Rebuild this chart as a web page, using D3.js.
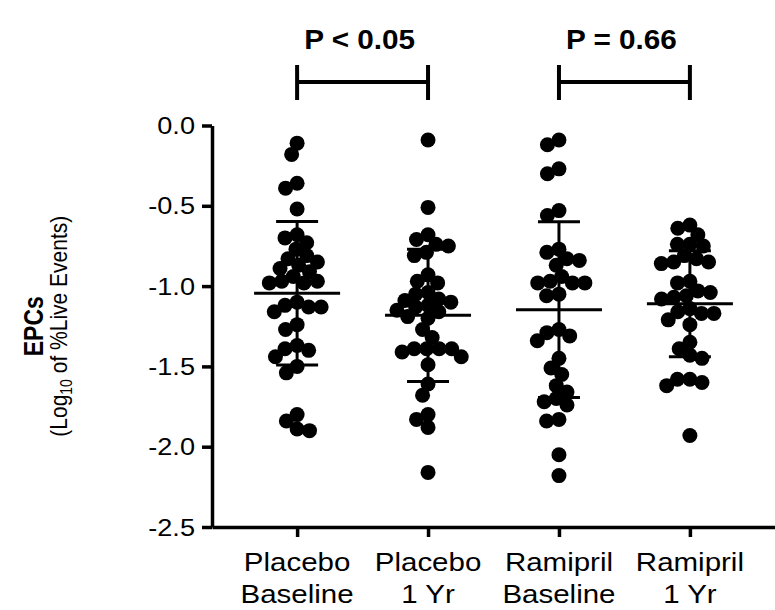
<!DOCTYPE html>
<html lang="en">
<head>
<meta charset="UTF-8">
<title>EPCs scatter</title>
<script src="https://d3js.org/d3.v7.min.js"></script>
<style>
  body { margin: 0; background: #fff; }
  svg text { font-family: "Liberation Sans", Arial, sans-serif; fill: #000; }
</style>
</head>
<body>
<div id="chart"></div>
<script>
// categories and tick labels
const categories = ["Placebo Baseline", "Placebo 1 Yr", "Ramipril Baseline", "Ramipril 1 Yr"];
const categoryLines = [["Placebo", "Baseline"], ["Placebo", "1 Yr"], ["Ramipril", "Baseline"], ["Ramipril", "1 Yr"]];
const yTicks = [0, -0.5, -1.0, -1.5, -2.0, -2.5];

// values (log10 of % live events)
const placeboBaseline = [-0.11, -0.18, -0.36, -0.39, -0.52, -0.70, -0.68, -0.73, -0.77, -0.81,
  -0.83, -0.85, -0.89, -0.87, -0.94, -0.91, -0.97, -0.98, -0.98, -0.97, -1.13, -1.13, -1.16,
  -1.12, -1.10, -1.24, -1.27, -1.37, -1.40, -1.39, -1.44, -1.50, -1.54, -1.84, -1.90, -1.89, -1.80];
const placebo1Yr = [-0.09, -0.51, -0.68, -0.74, -0.71, -0.75, -0.79, -0.81, -0.93, -0.98, -0.97,
  -1.05, -1.09, -1.04, -1.08, -1.12, -1.15, -1.13, -1.10, -1.16, -1.20, -1.19, -1.27, -1.32,
  -1.39, -1.39, -1.44, -1.49, -1.41, -1.39, -1.39, -1.61, -1.68, -1.83, -1.88, -1.80, -2.16];
const ramiprilBaseline = [-0.09, -0.12, -0.30, -0.27, -0.53, -0.56, -0.77, -0.83, -0.87, -0.84,
  -0.79, -0.97, -0.98, -1.05, -1.06, -0.98, -0.98, -0.94, -1.29, -1.34, -1.31, -1.27, -1.45,
  -1.55, -1.51, -1.66, -1.62, -1.70, -1.72, -1.74, -1.83, -1.84, -2.05, -2.18];
const ramipril1Yr = [-0.62, -0.64, -0.68, -0.75, -0.74, -0.74, -0.81, -0.83, -0.85, -0.86, -0.85,
  -0.98, -0.97, -1.03, -1.04, -1.08, -1.07, -1.06, -1.14, -1.17, -1.21, -1.24, -1.17, -1.16,
  -1.35, -1.39, -1.45, -1.43, -1.58, -1.60, -1.62, -1.58, -1.93];

const pLabels = ["P < 0.05", "P = 0.66"];
const pPairs = [[0, 1], [2, 3]];

const groups = [placeboBaseline, placebo1Yr, ramiprilBaseline, ramipril1Yr];

const width = 775, height = 610;
const sx = 1.18; // text in the source is drawn a little wide

const svg = d3.select("#chart").append("svg")
  .attr("width", width)
  .attr("height", height);

const x = d3.scalePoint()
  .domain(categories)
  .range([212, 775])
  .padding(0.65);

const y = d3.scaleLinear()
  .domain([-2.5, 0])
  .range([527, 125.5]);

// y axis
const yAxis = svg.append("g")
  .attr("transform", "translate(212,0)")
  .call(d3.axisLeft(y).tickValues(yTicks).tickSize(10).tickSizeOuter(0).tickFormat(d => d.toFixed(1)));
yAxis.select(".domain").attr("stroke-width", 3.5);
yAxis.selectAll(".tick line").attr("stroke-width", 3.5);
yAxis.selectAll(".tick text")
  .attr("x", null).attr("dy", null)
  .attr("font-size", 23)
  .attr("text-anchor", "end")
  .attr("transform", `translate(-17,8) scale(${sx},1)`);

// x axis
const xAxis = svg.append("g")
  .attr("transform", "translate(0,527)")
  .call(d3.axisBottom(x).tickSize(10).tickSizeOuter(0).tickFormat(""));
xAxis.select(".domain").attr("stroke-width", 3.5);
xAxis.selectAll(".tick line").attr("stroke-width", 3.5);

categories.forEach((c, i) => {
  const t = svg.append("text")
    .attr("text-anchor", "middle")
    .attr("font-size", 25)
    .attr("transform", `translate(${x(c)},571) scale(${sx},1)`);
  categoryLines[i].forEach((line, j) => {
    t.append("tspan").attr("x", 0).attr("y", j * 32).text(line);
  });
});

// y axis title
svg.append("text")
  .attr("transform", `translate(43,${y(-1.25)}) rotate(-90) scale(1,${sx})`)
  .attr("text-anchor", "middle")
  .attr("font-size", 23)
  .attr("font-weight", "bold")
  .text("EPCs");

const sub = svg.append("text")
  .attr("transform", `translate(67,${y(-1.25)}) rotate(-90) scale(1,${sx})`)
  .attr("text-anchor", "middle")
  .attr("font-size", 21);
sub.append("tspan").text("(Log");
sub.append("tspan").attr("font-size", 14).attr("dy", 4).text("10");
sub.append("tspan").attr("dy", -4).text(" of %Live Events)");

// simple beeswarm layout so dots sit side by side like the source
function swarm(values, gap) {
  const pts = values.map(v => ({ v, py: y(v) })).sort((a, b) => a.py - b.py);
  const placed = [];
  pts.forEach(p => {
    const ints = [];
    placed.forEach(q => {
      const dy = p.py - q.py;
      if (Math.abs(dy) < gap) {
        const dx = Math.sqrt(gap * gap - dy * dy);
        ints.push([q.dx - dx, q.dx + dx]);
      }
    });
    const cands = [0];
    ints.forEach(([a, b]) => cands.push(a, b));
    cands.sort((a, b) => Math.abs(a) - Math.abs(b));
    for (const c of cands) {
      if (!ints.some(([a, b]) => c > a + 1e-6 && c < b - 1e-6)) { p.dx = c; break; }
    }
    placed.push(p);
  });
  return placed;
}

groups.forEach((vals, i) => {
  const cx = x(categories[i]);
  const g = svg.append("g");
  g.selectAll("circle")
    .data(swarm(vals, 12.5))
    .join("circle")
    .attr("cx", d => cx + d.dx)
    .attr("cy", d => d.py)
    .attr("r", 7.5)
    .attr("fill", "#000");

  const m = d3.mean(vals), sd = d3.deviation(vals);
  g.append("line")
    .attr("x1", cx - 43).attr("x2", cx + 43)
    .attr("y1", y(m)).attr("y2", y(m))
    .attr("stroke", "#000").attr("stroke-width", 3);
  g.append("line")
    .attr("x1", cx).attr("x2", cx)
    .attr("y1", y(m + sd)).attr("y2", y(m - sd))
    .attr("stroke", "#000").attr("stroke-width", 3);
  [m + sd, m - sd].forEach(v => {
    g.append("line")
      .attr("x1", cx - 21).attr("x2", cx + 21)
      .attr("y1", y(v)).attr("y2", y(v))
      .attr("stroke", "#000").attr("stroke-width", 3);
  });
});

// comparison brackets
pPairs.forEach(([a, b], i) => {
  const x1 = x(categories[a]), x2 = x(categories[b]);
  const g = svg.append("g").attr("stroke", "#000").attr("stroke-width", 4);
  g.append("line").attr("x1", x1).attr("x2", x2).attr("y1", 82).attr("y2", 82);
  g.append("line").attr("x1", x1).attr("x2", x1).attr("y1", 65).attr("y2", 100);
  g.append("line").attr("x1", x2).attr("x2", x2).attr("y1", 65).attr("y2", 100);
  svg.append("text")
    .attr("text-anchor", "middle")
    .attr("font-size", 27)
    .attr("font-weight", "bold")
    .attr("transform", `translate(${(x1 + x2) / 2 - 3},49) scale(1.1,1)`)
    .text(pLabels[i]);
});
</script>
</body>
</html>
